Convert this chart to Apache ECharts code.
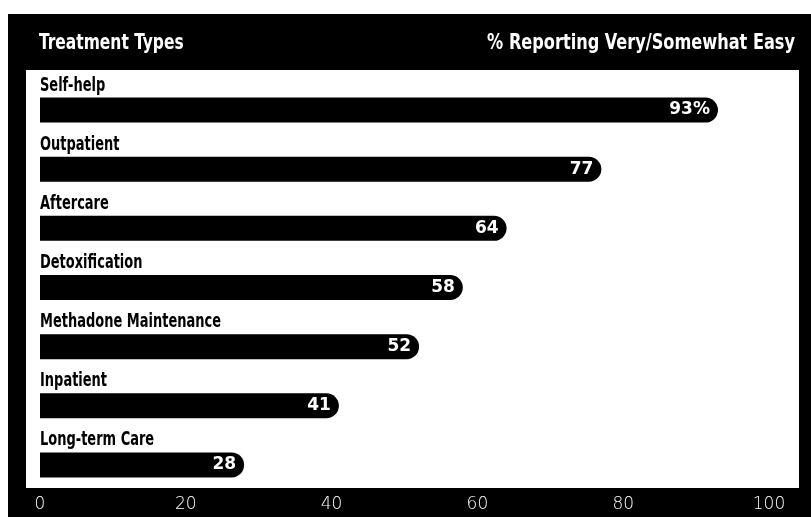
<!DOCTYPE html>
<html>
<head>
<meta charset="utf-8">
<style>
  html, body { margin: 0; padding: 0; background: #fff; }
  #chart { width: 811px; height: 517px; }
</style>
<script src="https://cdn.jsdelivr.net/npm/echarts@6/dist/echarts.min.js"></script>
</head>
<body>
<div id="chart"></div>
<script>
// Treatment types, listed top to bottom
const categories = ['Self-help', 'Outpatient', 'Aftercare', 'Detoxification',
  'Methadone Maintenance', 'Inpatient', 'Long-term Care'];
// Percent reporting access as very/somewhat easy
const values = [93, 77, 64, 58, 52, 41, 28];
// Axis tick labels
const xTicks = [0, 20, 40, 60, 80, 100];

const chart = echarts.init(document.getElementById('chart'), null, { renderer: 'canvas' });

const condFont = '"DejaVu Sans Condensed", "Liberation Sans Narrow", sans-serif';
const BAR_W = 25;

chart.setOption({
  backgroundColor: '#ffffff',
  animation: false,
  graphic: [
    { type: 'rect', z: -10, silent: true,
      shape: { x: 8, y: 14, width: 803, height: 503 },
      style: { fill: '#000' } },
    { type: 'rect', z: -9, silent: true,
      shape: { x: 26, y: 70, width: 773, height: 418 },
      style: { fill: '#fff' } },
    { type: 'text', x: 39, y: 44, scaleX: 0.82, z: 5,
      style: { text: 'Treatment Types', fill: '#fff',
        font: 'bold 21px ' + condFont, align: 'left', verticalAlign: 'middle' } },
    { type: 'text', x: 795, y: 44, scaleX: 0.855, z: 5,
      style: { text: '% Reporting Very/Somewhat Easy', fill: '#fff',
        font: 'bold 21px ' + condFont, align: 'right', verticalAlign: 'middle' } }
  ],
  grid: { left: 40, width: 729, top: 80.5, height: 414, containLabel: false },
  xAxis: {
    type: 'value', min: 0, max: 100, interval: 20,
    axisLine: { show: false }, axisTick: { show: false }, splitLine: { show: false },
    axisLabel: {
      margin: 2, color: '#fff', fontSize: 17,
      fontFamily: '"DejaVu Sans", sans-serif', fontWeight: 200,
      formatter: v => xTicks.includes(v) ? String(v) : ''
    }
  },
  yAxis: {
    type: 'category', data: categories, inverse: true,
    axisLine: { show: false }, axisTick: { show: false },
    axisLabel: { show: false }
  },
  series: [{
    type: 'bar', data: values, barWidth: BAR_W,
    itemStyle: { color: '#000', borderRadius: [0, BAR_W / 2, BAR_W / 2, 0] },
    label: {
      show: true, position: 'insideRight', distance: 8,
      color: '#fff', fontSize: 17, fontWeight: 'bold',
      fontFamily: '"DejaVu Sans", sans-serif',
      formatter: p => p.dataIndex === 0 ? p.value + '%' : String(p.value)
    }
  }, {
    // category names sit just above the start of each bar
    type: 'custom',
    data: categories.map(c => [0, c]),
    encode: { x: 0, y: 1 },
    clip: false,
    silent: true,
    renderItem: (params, api) => {
      const pt = api.coord([0, api.value(1)]);
      return {
        type: 'text',
        x: pt[0], y: pt[1] - BAR_W / 2 - 12,
        scaleX: 0.76,
        style: {
          text: categories[params.dataIndex], fill: '#000',
          font: 'bold 19px ' + condFont, align: 'left', verticalAlign: 'middle'
        }
      };
    }
  }]
});
</script>
</body>
</html>
